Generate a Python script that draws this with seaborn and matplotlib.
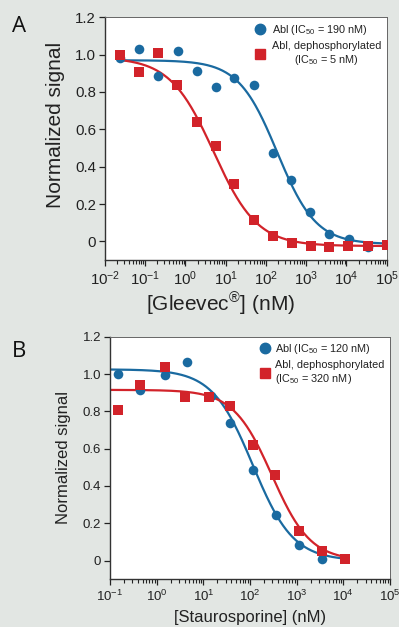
import numpy as np
import pandas as pd
import matplotlib
matplotlib.use("Agg")
import matplotlib.pyplot as plt
import seaborn as sns
from matplotlib.lines import Line2D
from matplotlib.ticker import NullFormatter, FixedLocator, LogFormatterSciNotation

# ---------------- data ----------------
# Panel A: Gleevec
a_abl_x = [0.0236, 0.071, 0.21, 0.64, 1.9, 5.6, 16.5, 50, 147, 430, 1280, 3800, 11300, 34000]
a_abl_y = [0.98, 1.03, 0.884, 1.02, 0.914, 0.825, 0.873, 0.836, 0.471, 0.331, 0.155, 0.039, 0.012, -0.032]
a_dep_x = [0.0236, 0.071, 0.21, 0.62, 1.95, 5.6, 16.5, 50, 150, 440, 1300, 3800, 11000, 34000, 100000]
a_dep_y = [0.996, 0.907, 1.008, 0.836, 0.638, 0.51, 0.309, 0.117, 0.027, -0.009, -0.023, -0.028, -0.023, -0.023, -0.018]
# Panel B: Staurosporine
b_abl_x = [0.15, 0.45, 1.5, 4.4, 14.5, 37, 117, 363, 1120, 3470]
b_abl_y = [0.999, 0.912, 0.996, 1.063, 0.884, 0.738, 0.484, 0.245, 0.084, 0.009]
b_dep_x = [0.15, 0.45, 1.5, 4.0, 13, 38, 117, 350, 1120, 3470, 10960]
b_dep_y = [0.805, 0.942, 1.04, 0.876, 0.876, 0.827, 0.619, 0.459, 0.158, 0.053, 0.007]

# 4-parameter logistic fit parameters (top, bottom, log10 IC50, Hill slope)
a_abl_fit = (0.97, -0.015, 2.28, 0.9)
a_dep_fit = (0.985, -0.025, 0.70, 0.8)
b_abl_fit = (1.025, 0.0, 2.06, 1.0)
b_dep_fit = (0.915, 0.0, 2.47, 1.05)
a_fit_range = (0.0236, 1e5)
b_fit_range = (0.1, 1.1e4)

a_labels = ["Abl (IC$_{50}$ = 190 nM)", "Abl, dephosphorylated\n(IC$_{50}$ = 5 nM)"]
b_labels = ["Abl (IC$_{50}$ = 120 nM)", "Abl, dephosphorylated\n(IC$_{50}$ = 320 nM)"]
y_ticks = [0, 0.2, 0.4, 0.6, 0.8, 1.0, 1.2]
y_ticklabels = ["0", "0.2", "0.4", "0.6", "0.8", "1.0", "1.2"]

BLUE = "#1a6aa0"
RED = "#d2232a"
BG = "#e2e6e3"

sns.set_theme(style="ticks")
plt.rcParams["font.family"] = ["Liberation Sans", "DejaVu Sans"]
plt.rcParams["mathtext.fontset"] = "custom"
plt.rcParams["mathtext.rm"] = "Liberation Sans"
plt.rcParams["mathtext.it"] = "Liberation Sans:italic"
plt.rcParams["mathtext.default"] = "regular"

fig = plt.figure(figsize=(3.99, 6.27), dpi=100, facecolor=BG)


def logistic(x, p):
    top, bot, c, h = p
    return bot + (top - bot) / (1 + 10 ** (h * (np.log10(x) - c)))


def panel(rect, xlo, xhi, abl_x, abl_y, dep_x, dep_y, pa, pd_, frange, labels, xlabel,
          letter, letter_y, center2, fs_lab, fs_tick, hpad, xlab_x, xlab_pad, ylab_y, ylab_pad):
    ax = fig.add_axes(rect)
    ax.set_facecolor("white")
    xx = np.logspace(np.log10(frange[0]), np.log10(frange[1]), 300)
    df_fit = pd.DataFrame({"x": np.concatenate([xx, xx]),
                           "y": np.concatenate([logistic(xx, pa), logistic(xx, pd_)]),
                           "s": ["abl"] * len(xx) + ["dep"] * len(xx)})
    sns.lineplot(data=df_fit, x="x", y="y", hue="s", palette={"abl": BLUE, "dep": RED},
                 lw=1.6, legend=False, ax=ax, zorder=2)
    df_abl = pd.DataFrame({"x": abl_x, "y": abl_y})
    df_dep = pd.DataFrame({"x": dep_x, "y": dep_y})
    sns.scatterplot(data=df_abl, x="x", y="y", color=BLUE, marker="o",
                    s=48, linewidth=0, legend=False, ax=ax, zorder=3)
    sns.scatterplot(data=df_dep, x="x", y="y", color=RED, marker="s",
                    s=44, linewidth=0, legend=False, ax=ax, zorder=4)
    ax.set_xscale("log")
    ax.set_xlim(xlo, xhi)
    ax.set_ylim(-0.1, 1.2)
    ax.yaxis.set_major_locator(FixedLocator(y_ticks))
    ax.set_yticklabels(y_ticklabels)
    ax.yaxis.set_minor_locator(FixedLocator([]))
    e0, e1 = int(round(np.log10(xlo))), int(round(np.log10(xhi)))
    majors = [10.0 ** e for e in range(e0, e1 + 1)]
    minors = [m * 10.0 ** e for e in range(e0, e1) for m in range(2, 10)]
    ax.xaxis.set_major_locator(FixedLocator(majors))
    ax.xaxis.set_major_formatter(LogFormatterSciNotation())
    ax.xaxis.set_minor_locator(FixedLocator(minors))
    ax.xaxis.set_minor_formatter(NullFormatter())
    ax.tick_params(axis="both", which="major", direction="out", length=4.5, width=0.9,
                   color="#222222", labelsize=fs_tick, pad=2, labelcolor="#222222",
                   bottom=True, left=True)
    ax.tick_params(axis="x", which="minor", direction="out", length=3, width=0.8,
                   color="#222222", bottom=True)
    for s in ["left", "bottom"]:
        ax.spines[s].set_color("#333333")
        ax.spines[s].set_linewidth(1.0)
    for s in ["top", "right"]:
        ax.spines[s].set_visible(True)
        ax.spines[s].set_color("#666666")
        ax.spines[s].set_linewidth(0.7)
    ax.set_xlabel(xlabel, fontsize=fs_lab, color="#222222", labelpad=xlab_pad)
    ax.set_ylabel("Normalized signal", fontsize=fs_lab, color="#222222", labelpad=ylab_pad)
    if xlab_x is not None:
        ax.xaxis.label.set_x(xlab_x)
    if ylab_y is not None:
        ax.yaxis.label.set_y(ylab_y)
    handles = [Line2D([], [], marker="o", color=BLUE, ls="", markersize=7.5),
               Line2D([], [], marker="s", color=RED, ls="", markersize=7)]
    leg = ax.legend(handles, labels, loc="upper right", frameon=False, fontsize=7.8,
                    handletextpad=hpad, borderaxespad=0.2, labelspacing=0.35, handlelength=1.0,
                    borderpad=0.3)
    for t in leg.get_texts():
        t.set_color("#222222")
    if center2:
        leg.get_texts()[1].set_multialignment("center")
    fig.text(0.03, letter_y, letter, fontsize=16, color="#111111",
             ha="left", va="center", family=["Open Sans", "DejaVu Sans"])
    return ax


panel([0.263, 0.5853, 0.706, 0.3871], 1e-2, 1e5, a_abl_x, a_abl_y, a_dep_x, a_dep_y,
      a_abl_fit, a_dep_fit, a_fit_range, a_labels, "[Gleevec$^{®}$] (nM)", "A", 0.957, True,
      15.0, 10.8, 0.6, 0.41, 2, 0.555, 7)
panel([0.2757, 0.0761, 0.7017, 0.3869], 1e-1, 1e5, b_abl_x, b_abl_y, b_dep_x, b_dep_y,
      b_abl_fit, b_dep_fit, b_fit_range, b_labels, "[Staurosporine] (nM)", "B", 0.439, False,
      12.0, 9.5, 0.4, None, 5, None, 8)

fig.savefig("out.png", dpi=100, facecolor=BG)
